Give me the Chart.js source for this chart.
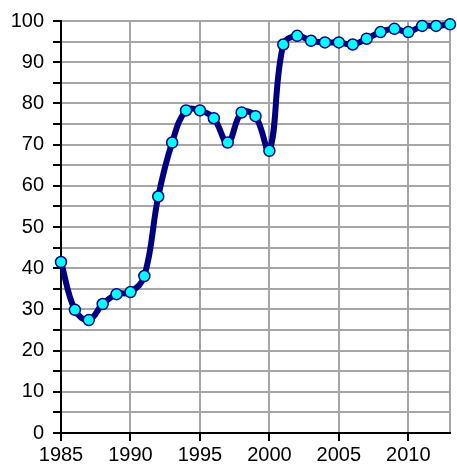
<!DOCTYPE html>
<html>
<head>
<meta charset="utf-8">
<script src="https://cdn.jsdelivr.net/npm/chart.js@4.4.0/dist/chart.umd.min.js"></script>
<style>
    html, body { margin: 0; padding: 0; background: #fff; }
    #chartContainer { display: block; }
</style>
</head>
<body>
<canvas id="chartContainer" width="457" height="468"></canvas>
<script>
const years = [
    1985, 1986, 1987, 1988, 1989, 1990, 1991, 1992, 1993, 1994,
    1995, 1996, 1997, 1998, 1999, 2000, 2001, 2002, 2003, 2004,
    2005, 2006, 2007, 2008, 2009, 2010, 2011, 2012, 2013,
];
const values = [
    41.5, 29.9, 27.4, 31.3, 33.7, 34.2, 38.1, 57.4, 70.5, 78.3,
    78.3, 76.4, 70.5, 77.8, 76.9, 68.5, 94.3, 96.4, 95.2, 94.8,
    94.8, 94.3, 95.7, 97.3, 98.1, 97.3, 98.8, 98.8, 99.2,
];
const yearTicks = [1985, 1990, 1995, 2000, 2005, 2010, 2013];
const valueTicks = [0, 10, 20, 30, 40, 50, 60, 70, 80, 90, 100];

const font = { family: "Arial, 'Liberation Sans', sans-serif", size: 20 };
const gridColor = "#a6a6a6";

const ctx = document.getElementById("chartContainer");
const chart = new Chart(ctx, {
    type: "line",
    data: {
        datasets: [
            {
                data: years.map((y, i) => ({ x: y, y: values[i] })),
                borderColor: "#000080",
                borderWidth: 6,
                tension: 0.4,
                pointRadius: 5.5,
                pointBackgroundColor: "#00ffff",
                pointBorderColor: "#000080",
                pointBorderWidth: 1.5,
                clip: false,
            },
        ],
    },
    options: {
        responsive: false,
        animation: false,
        layout: { padding: { top: 21, right: 2, left: 0, bottom: 0 } },
        plugins: { legend: { display: false }, tooltip: { enabled: false } },
        scales: {
            x: {
                type: "linear",
                min: 1985,
                max: 2013,
                afterBuildTicks: (scale) => {
                    scale.ticks = yearTicks.map((v) => ({ value: v }));
                },
                afterFit: (scale) => {
                    scale.height = 35;
                    scale.paddingLeft = 0;
                    scale.paddingRight = 0;
                },
                ticks: {
                    color: "#000",
                    font: font,
                    padding: 2,
                    maxRotation: 0,
                    autoSkip: false,
                    callback: (v) => (v % 5 === 0 ? String(v) : ""),
                },
                grid: {
                    color: gridColor,
                    lineWidth: 2,
                    tickLength: 8,
                    tickColor: (c) => (c.tick && c.tick.value % 5 === 0 ? "#000" : "rgba(0,0,0,0)"),
                    tickWidth: 2,
                },
                border: { color: "#000", width: 2 },
            },
            y: {
                min: 0,
                max: 100,
                afterBuildTicks: (scale) => {
                    const t = [];
                    for (let v = 0; v <= 100; v += 5) t.push({ value: v });
                    scale.ticks = t;
                },
                afterFit: (scale) => {
                    scale.width = 61;
                    scale.paddingTop = 0;
                    scale.paddingBottom = 0;
                },
                ticks: {
                    color: "#000",
                    font: font,
                    padding: 9,
                    autoSkip: false,
                    callback: (v) => (valueTicks.includes(v) ? String(v) : ""),
                },
                grid: {
                    color: gridColor,
                    lineWidth: 2,
                    tickLength: 8,
                    tickColor: "#000",
                    tickWidth: 2,
                },
                border: { color: "#000", width: 2 },
            },
        },
    },
});
</script>
</body>
</html>
